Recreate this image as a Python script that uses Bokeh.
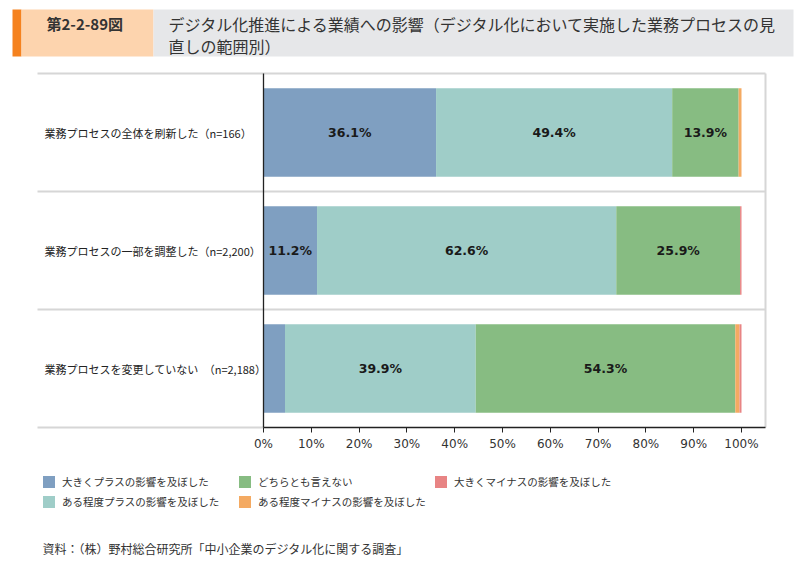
from bokeh.plotting import figure
from bokeh.models import (ColumnDataSource, Range1d, FixedTicker, Label, Legend, LegendItem)
from bokeh.core.properties import value
from bokeh.embed import file_html
from bokeh.resources import INLINE

# ---------------- data ----------------
categories = ["業務プロセスの全体を刷新した（n=166）",
              "業務プロセスの一部を調整した（n=2,200）",
              "業務プロセスを変更していない　（n=2,188）"]
series_names = ["大きくプラスの影響を及ぼした", "ある程度プラスの影響を及ぼした",
                "どちらとも言えない", "ある程度マイナスの影響を及ぼした",
                "大きくマイナスの影響を及ぼした"]
big_plus = [36.1, 11.2, 4.5]
some_plus = [49.4, 62.6, 39.9]
neutral = [13.9, 25.9, 54.3]
some_minus = [0.6, 0.0, 0.9]
big_minus = [0.0, 0.3, 0.4]
tick_values = [0, 10, 20, 30, 40, 50, 60, 70, 80, 90, 100]
tick_labels = ["0%", "10%", "20%", "30%", "40%", "50%", "60%", "70%", "80%", "90%", "100%"]
fig_label = "第2-2-89図"
title_line1 = "デジタル化推進による業績への影響（デジタル化において実施した業務プロセスの見"
title_line2 = "直しの範囲別）"
source_note = "資料：（株）野村総合研究所「中小企業のデジタル化に関する調査」"

colors = ["#7F9FC1", "#9FCDC8", "#87BC82", "#F4AA62", "#E88484"]
keys = ["big_plus", "some_plus", "neutral", "some_minus", "big_minus"]
series = [big_plus, some_plus, neutral, some_minus, big_minus]

# ---------------- geometry (page px) ----------------
W, H = 796, 564
OFF = 0
FL, FR, FT, FB = 37, 765, 73, 427       # chart box edges on the page
AX0, AX100 = 263, 741                   # 0% and 100% on the page
PXU = (AX100 - AX0) / 100.0
YPX = (FB - FT) / 3.0
X0 = (FL - AX0) / PXU
X1 = (FR - AX0) / PXU


def px(x):
    return (x - AX0) / PXU


def py(y):
    return 2.5 - (y - FT) / YPX


# the frame covers the whole canvas
p = figure(width=W, height=H, output_backend="svg", toolbar_location=None,
           x_range=Range1d(px(OFF), px(OFF + W)), y_range=Range1d(py(OFF + H), py(OFF)),
           min_border=0)
p.outline_line_color = None
p.background_fill_color = "white"
p.border_fill_color = "white"
p.xgrid.visible = False
p.ygrid.visible = False
p.yaxis.visible = False

rows = [2, 1, 0]
data = dict(y=rows, cat=categories)
for k, s in zip(keys, series):
    data[k] = s
src = ColumnDataSource(data)

renderers = p.hbar_stack(keys, y="y", height=0.75, color=colors, line_color=None,
                         source=src)

# separators and box lines
gray = "#D6D6D6"
p.segment(x0=[X0, X0, X0, X0], y0=[2.5, 1.5, 0.5, -0.5],
          x1=[X1, X1, X1, 0], y1=[2.5, 1.5, 0.5, -0.5], line_color=gray, line_width=2)
p.segment(x0=[X1], y0=[-0.5], x1=[X1], y1=[2.5], line_color=gray, line_width=2)
p.segment(x0=[0], y0=[-0.5], x1=[0], y1=[2.5], line_color="#222222", line_width=1.3)

# x axis, drawn at the bottom of the chart box
ax = p.xaxis[0]
ax.fixed_location = -0.5
ax.bounds = (0, X1)
ax.ticker = FixedTicker(ticks=tick_values)
ax.major_label_overrides = {t: l for t, l in zip(tick_values, tick_labels)}
ax.axis_line_color = "#222222"
ax.axis_line_width = 1.3
ax.major_tick_in = 0
ax.major_tick_out = 5
ax.major_tick_line_color = "#222222"
ax.minor_tick_line_color = None
ax.major_label_standoff = 4
ax.major_label_text_font = "DejaVu Sans"
ax.major_label_text_font_size = "12px"
ax.major_label_text_color = "#333333"

# category labels
p.text(x=[px(44)] * 3, y=rows, text=categories, text_align="left", text_baseline="middle",
       text_font=value("Noto Sans CJK JP"), text_font_size="11px", text_color="#222222")

# value labels
lx, ly, lt = [], [], []
cum = [0.0, 0.0, 0.0]
for s in series:
    for i, v in enumerate(s):
        if v >= 10:
            lx.append(cum[i] + v / 2)
            ly.append(rows[i])
            lt.append(f"{v:.1f}%")
        cum[i] += v
p.text(x=lx, y=ly, text=lt, text_align="center", text_baseline="middle",
       text_font=value("DejaVu Sans"), text_font_style="bold", text_font_size="12.5px",
       text_color="#1A1A1A")

# header
p.quad(left=[px(12), px(21), px(153)], right=[px(21), px(153), px(793)],
       top=[py(9)] * 3, bottom=[py(56)] * 3,
       fill_color=["#F5821F", "#FDD4AE", "#E6E7E9"], line_color=None)
p.add_layout(Label(x=px(46), y=py(23), text=fig_label, text_align="left",
                   text_baseline="middle", text_font="Noto Sans CJK JP",
                   text_font_size="15px", text_font_style="bold", text_color="#333333"))
p.add_layout(Label(x=px(168), y=py(23), text=title_line1, text_align="left",
                   text_baseline="middle", text_font="Noto Sans CJK JP",
                   text_font_size="16px", text_color="#333333"))
p.add_layout(Label(x=px(168), y=py(45), text=title_line2, text_align="left",
                   text_baseline="middle", text_font="Noto Sans CJK JP",
                   text_font_size="16px", text_color="#333333"))
p.add_layout(Label(x=px(42), y=py(548), text=source_note, text_align="left",
                   text_baseline="middle", text_font="Noto Sans CJK JP",
                   text_font_size="12px", text_color="#333333"))

# legends (column-major, 2 rows)
groups = [[0, 1], [2, 3], [4]]
col_x = [41, 237, 433]
leg_top = 474
for g, cx in zip(groups, col_x):
    items = [LegendItem(label=series_names[i], renderers=[renderers[i]]) for i in g]
    n = len(g)
    hgt = n * 15 + (n - 1) * 5
    vy = (OFF + H) - (leg_top + hgt)
    leg = Legend(items=items, location=(cx - OFF, vy), orientation="vertical",
                 border_line_color=None, background_fill_alpha=0, padding=0, margin=0,
                 spacing=5, glyph_width=15, glyph_height=15, label_height=15,
                 label_standoff=6, label_text_font="Noto Sans CJK JP",
                 label_text_font_size="10.5px", label_text_color="#333333",
                 label_text_baseline="middle")
    p.add_layout(leg, "center")

open("out.html", "w").write(file_html(p, INLINE))
